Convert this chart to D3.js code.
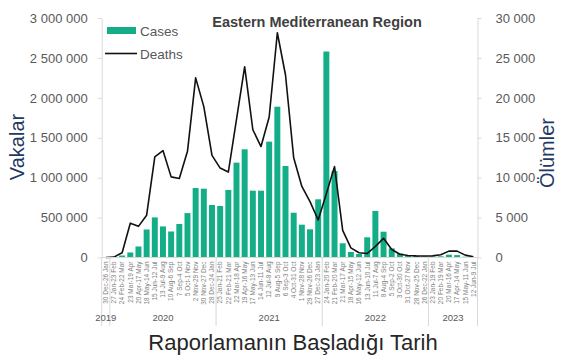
<!DOCTYPE html>
<html>
<head>
<meta charset="utf-8">
<script src="https://cdn.jsdelivr.net/npm/d3@7"></script>
<style>
  html, body { margin: 0; padding: 0; background: #fff; }
  svg { display: block; font-family: "Liberation Sans", Arial, sans-serif; }
</style>
</head>
<body>
<svg id="chart" width="570" height="360"></svg>
<script>
// ---- Data ----
const periodLabels = [
  "30 Dec-26 Jan",
  "27 Jan-23 Feb","24 Feb-22 Mar","23 Mar-19 Apr","20 Apr-17 May","18 May-14 Jun","15 Jun-12 Jul",
  "13 Jul-9 Aug","10 Aug-6 Sep","7 Sep-4 Oct","5 Oct-1 Nov","2 Nov-29 Nov","30 Nov-27 Dec","28 Dec-24 Jan",
  "25 Jan-21 Feb","22 Feb-21 Mar","22 Mar-18 Apr","19 Apr-16 May","17 May-13 Jun","14 Jun-11 Jul",
  "12 Jul-8 Aug","9 Aug-5 Sep","6 Sep-3 Oct","4 Oct-31 Oct","1 Nov-28 Nov","29 Nov-26 Dec","27 Dec-23 Jan",
  "24 Jan-20 Feb","21 Feb-20 Mar","21 Mar-17 Apr","18 Apr-15 May","16 May-12 Jun","13 Jun-10 Jul",
  "11 Jul-7 Aug","8 Aug-4 Sep","5 Sep-2 Oct","3 Oct-30 Oct","31 Oct-27 Nov","28 Nov-25 Dec","26 Dec-22 Jan",
  "23 Jan-19 Feb","20 Feb-19 Mar","20 Mar-16 Apr","17 Apr-14 May","15 May-11 Jun","12 Jun-9 Jul"
];
const cases = [
  0,
  0, 25000, 63000, 138000, 351000, 502000, 389000, 326000, 420000, 556000, 870000, 862000, 658000,
  645000, 846000, 1188000, 1355000, 837000, 837000, 1451000, 1889000, 1146000, 561000, 411000, 353000, 729000,
  2580000, 1083000, 178000, 69000, 44000, 253000, 584000, 323000, 115000, 52000, 30000, 20000, 12000,
  10000, 15000, 35000, 30000, 10000, 5000
];
const deaths = [
  0,
  50, 600, 4300, 3900, 5300, 12600, 13400, 10100, 9900, 13300, 22500, 18900, 12800,
  11200, 10700, 17300, 23900, 16000, 13900, 17600, 28150, 22860, 12500, 8900, 7000, 4700,
  8000, 11400, 3400, 1200, 600, 500, 1400, 2400, 1000, 400, 250, 200, 180,
  200, 350, 800, 800, 300, 100
];
const yearLabels = ["2019", "2020", "2021", "2022", "2023"];
const yearCounts = [1, 13, 13, 13, 6];
const leftTicks = [0, 500000, 1000000, 1500000, 2000000, 2500000, 3000000];
const rightTicks = [0, 5000, 10000, 15000, 20000, 25000, 30000];

// ---- Layout ----
const svg = d3.select("#chart");
const X0 = 101.7, X1 = 477.5, Y0 = 257.5, Y1 = 18;
const axisColor = "#d9d9d9", tickText = "#595959";

const x = d3.scaleBand().domain(d3.range(cases.length)).range([X0, X1]).paddingInner(0.27).paddingOuter(0.135);
const step = x.step();
const yL = d3.scaleLinear().domain([0, 3000000]).range([Y0, Y1]);
const yR = d3.scaleLinear().domain([0, 30000]).range([Y0, Y1]);
const fmt = d => d3.format(",")(d).replace(/,/g, " ");

// Bars
svg.append("g").selectAll("rect").data(cases).join("rect")
  .attr("x", (d, i) => x(i))
  .attr("y", d => yL(d))
  .attr("width", x.bandwidth())
  .attr("height", d => Y0 - yL(d))
  .attr("fill", "#13ae88");

// Line
const line = d3.line().x((d, i) => x(i) + x.bandwidth() / 2).y(d => yR(d));
svg.append("path").datum(deaths)
  .attr("d", line).attr("fill", "none").attr("stroke", "#111").attr("stroke-width", 1.6)
  .attr("stroke-linejoin", "round");

// Axes
function styleAxis(g) {
  g.selectAll("path").attr("stroke", axisColor);
  g.selectAll("line").attr("stroke", axisColor);
  g.selectAll("text").attr("fill", tickText).style("font-size", "13px")
    .style("font-family", "'Liberation Sans', Arial, sans-serif");
}
svg.append("g").attr("transform", `translate(${X0},0)`)
  .call(d3.axisLeft(yL).tickValues(leftTicks).tickFormat(fmt).tickSize(4).tickSizeOuter(0).tickPadding(10))
  .call(styleAxis);
svg.append("g").attr("transform", `translate(${X1},0)`)
  .call(d3.axisRight(yR).tickValues(rightTicks).tickFormat(fmt).tickSize(4).tickSizeOuter(0).tickPadding(14))
  .call(styleAxis);

// Baseline
svg.append("line").attr("x1", X0).attr("x2", X1).attr("y1", Y0).attr("y2", Y0)
  .attr("stroke", axisColor);

// Category labels
svg.append("g").selectAll("text").data(periodLabels).join("text")
  .attr("transform", (d, i) => `translate(${x(i) + x.bandwidth() / 2 + 2.3},${Y0 + 4}) rotate(-90)`)
  .attr("text-anchor", "end")
  .attr("fill", "#7f7f7f")
  .style("font-size", "6.5px")
  .text(d => d);

// Year groups
let acc = 0;
const bounds = [0];
yearCounts.forEach(c => { acc += c; bounds.push(acc); });
svg.append("g").selectAll("line").data(bounds).join("line")
  .attr("x1", b => X0 + b * step).attr("x2", b => X0 + b * step)
  .attr("y1", Y0).attr("y2", 326)
  .attr("stroke", axisColor);
svg.append("g").selectAll("text").data(yearLabels).join("text")
  .attr("x", (d, i) => X0 + (bounds[i] + bounds[i + 1]) / 2 * step)
  .attr("y", 321)
  .attr("text-anchor", "middle")
  .attr("fill", tickText)
  .style("font-size", "9.5px")
  .text(d => d);

// Title
svg.append("text").attr("x", 317).attr("y", 27).attr("text-anchor", "middle")
  .attr("fill", "#404040").style("font-size", "14.5px").style("font-weight", "bold")
  .text("Eastern Mediterranean Region");

// Legend
svg.append("rect").attr("x", 107).attr("y", 27).attr("width", 29).attr("height", 7).attr("fill", "#13ae88");
svg.append("text").attr("x", 140).attr("y", 36).attr("fill", tickText).style("font-size", "13.5px").text("Cases");
svg.append("line").attr("x1", 105).attr("x2", 137).attr("y1", 53.5).attr("y2", 53.5)
  .attr("stroke", "#111").attr("stroke-width", 1.6);
svg.append("text").attr("x", 140).attr("y", 58.5).attr("fill", tickText).style("font-size", "13.5px").text("Deaths");

// Axis titles
svg.append("text").attr("transform", "translate(24,147) rotate(-90)").attr("text-anchor", "middle")
  .attr("fill", "#1f3864").style("font-size", "20px").text("Vakalar");
svg.append("text").attr("transform", "translate(554,153) rotate(-90)").attr("text-anchor", "middle")
  .attr("fill", "#1f3864").style("font-size", "20px").text("Ölümler");
svg.append("text").attr("x", 293).attr("y", 350).attr("text-anchor", "middle")
  .attr("fill", "#262626").style("font-size", "22px").text("Raporlamanın Başladığı Tarih");
</script>
</body>
</html>
